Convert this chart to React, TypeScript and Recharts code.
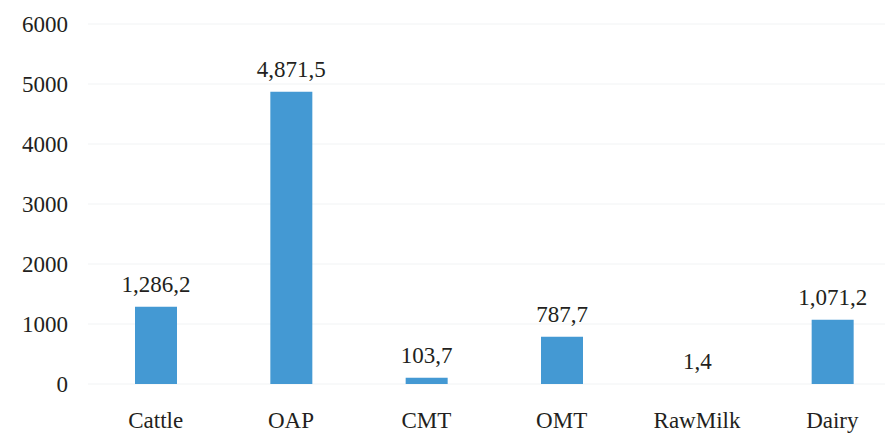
import React from 'react';
import { BarChart, Bar, CartesianGrid, XAxis, YAxis, LabelList } from 'recharts';

const categories = ['Cattle', 'OAP', 'CMT', 'OMT', 'RawMilk', 'Dairy'];
const values = [1286.2, 4871.5, 103.7, 787.7, 1.4, 1071.2];
const yTicks = [0, 1000, 2000, 3000, 4000, 5000, 6000];

const data = categories.map((name, i) => ({ name, value: values[i] }));

const fontFamily = 'Liberation Serif';
const textColor = '#231f20';
const textStyle = { fontFamily, fontSize: 23, fill: textColor };

// 4871.5 -> "4,871,5" (comma thousands and comma decimal, as in the source)
const formatValue = (v: number) => {
  const [whole, dec] = v.toFixed(1).split('.');
  return Number(whole).toLocaleString('en-US') + ',' + dec;
};

const App: React.FC = () => {
  return (
    <div
      style={{
        position: 'absolute',
        left: 0,
        top: 0,
        width: 885,
        height: 433,
        overflow: 'hidden',
        background: '#fff',
        fontFamily
      }}
    >
      <style>{`.recharts-text, .recharts-label { font-family: 'Liberation Serif', 'Times New Roman', serif !important; }`}</style>
      <BarChart
        width={900}
        height={433}
        data={data}
        margin={{ top: 24, right: 0, bottom: 0, left: 0 }}
        barSize={42}
      >
        <CartesianGrid vertical={false} stroke="#f1f3f4" />
        <XAxis
          dataKey="name"
          axisLine={false}
          tickLine={false}
          tickSize={0}
          tickMargin={28}
          height={49}
          interval={0}
          tick={{ ...textStyle, style: textStyle }}
        />
        <YAxis
          domain={[0, 6000]}
          ticks={yTicks}
          axisLine={false}
          tickLine={false}
          tickSize={0}
          tickMargin={20}
          width={88}
          tick={{ ...textStyle, style: textStyle }}
        />
        <Bar dataKey="value" fill="#4499d3" isAnimationActive={false}>
          <LabelList
            dataKey="value"
            position="top"
            offset={15}
            formatter={(v: number) => formatValue(v)}
            style={textStyle}
          />
        </Bar>
      </BarChart>
    </div>
  );
};

export default App;
